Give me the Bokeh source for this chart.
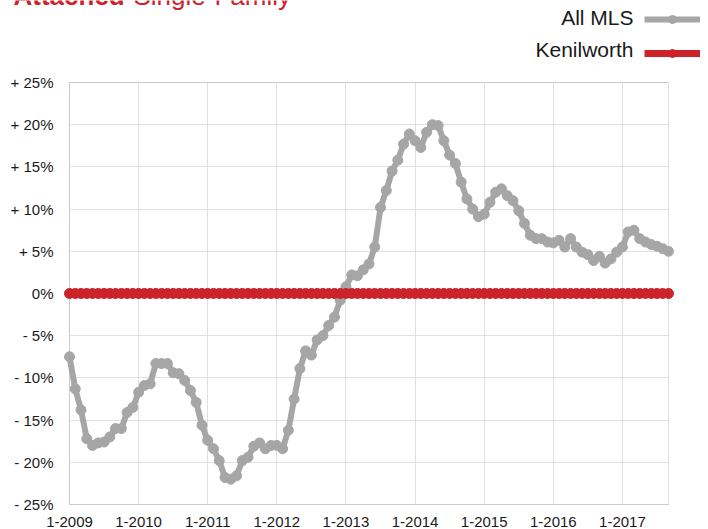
from bokeh.plotting import figure
from bokeh.models import (FixedTicker, Label, Legend, LegendItem, ColumnDataSource,
                          Range1d, BoxAnnotation, Grid)
from bokeh.embed import file_html
from bokeh.resources import INLINE

# ---- data ----
x_tick_labels = ["1-2009", "1-2010", "1-2011", "1-2012", "1-2013",
                 "1-2014", "1-2015", "1-2016", "1-2017"]
y_tick_values = [-25, -20, -15, -10, -5, 0, 5, 10, 15, 20, 25]
y_tick_labels = ["- 25%", "- 20%", "- 15%", "- 10%", "- 5%", "0%",
                 "+ 5%", "+ 10%", "+ 15%", "+ 20%", "+ 25%"]

# monthly values, Jan 2009 .. Sep 2017 (percent change)
all_mls = [
    -7.5, -11.3, -13.8, -17.2, -18.0, -17.7, -17.6, -17.0, -16.0, -16.0, -14.1, -13.5,   # 2009
    -11.7, -10.9, -10.7, -8.3, -8.3, -8.3, -9.4, -9.5, -10.3, -11.5, -12.9, -15.6,       # 2010
    -17.4, -18.4, -19.8, -21.8, -22.0, -21.6, -19.8, -19.4, -18.1, -17.7, -18.4, -18.0,  # 2011
    -18.0, -18.4, -16.2, -12.5, -8.9, -6.8, -7.3, -5.5, -5.0, -3.8, -2.8, -0.8,          # 2012
    0.8, 2.2, 2.1, 2.8, 3.5, 5.5, 10.2, 12.2, 14.5, 15.8, 17.7, 18.9,                    # 2013
    18.1, 17.3, 19.1, 20.0, 19.9, 18.1, 16.4, 15.4, 13.2, 11.2, 10.0, 9.1,               # 2014
    9.4, 10.8, 12.0, 12.4, 11.6, 11.0, 9.8, 8.3, 6.9, 6.5, 6.5, 6.1,                     # 2015
    6.0, 6.3, 5.5, 6.5, 5.5, 4.9, 4.6, 3.9, 4.4, 3.6, 4.1, 4.9,                          # 2016
    5.5, 7.3, 7.5, 6.5, 6.1, 5.8, 5.6, 5.3, 5.0,                                         # 2017
]
kenilworth = [
    0, 0, 0, 0, 0, 0, 0, 0, 0, 0, 0, 0,
    0, 0, 0, 0, 0, 0, 0, 0, 0, 0, 0, 0,
    0, 0, 0, 0, 0, 0, 0, 0, 0, 0, 0, 0,
    0, 0, 0, 0, 0, 0, 0, 0, 0, 0, 0, 0,
    0, 0, 0, 0, 0, 0, 0, 0, 0, 0, 0, 0,
    0, 0, 0, 0, 0, 0, 0, 0, 0, 0, 0, 0,
    0, 0, 0, 0, 0, 0, 0, 0, 0, 0, 0, 0,
    0, 0, 0, 0, 0, 0, 0, 0, 0, 0, 0, 0,
    0, 0, 0, 0, 0, 0, 0, 0, 0,
]
month_index = list(range(len(all_mls)))

GRAY = "#a6a6a6"
RED = "#cc2229"
FONT = "Liberation Sans"
TEXT = "#1a1a1a"

# ---- layout (pixels) ----
W, H = 708, 529
RIGHT = 8
PLOT_LEFT_PAD = 69   # px between canvas left and first month
PLOT_W = 599         # px width of the plotted period
PLOT_H = 422         # px height of -25..+25
TOP_PAD = 82         # px between canvas top and +25 %
BOTTOM_PAD = 25      # px between -25 % and canvas bottom
YLAB_RIGHT = 53      # right edge of y tick labels
XLAB_TOP = 13        # px above canvas bottom where x tick labels start
X0, X1 = 0, len(all_mls) - 1
Y0, Y1 = -25, 25
PXM = PLOT_W / (X1 - X0)
PXY = PLOT_H / (Y1 - Y0)
frame_w = W - RIGHT

def dx(px):
    return X0 + px / PXM

def dy(px_above_top):
    return Y1 + px_above_top / PXY

src = ColumnDataSource(dict(x=month_index, mls=all_mls, ken=kenilworth))

p = figure(width=W, height=H,
           x_range=Range1d(dx(-PLOT_LEFT_PAD), dx(frame_w - PLOT_LEFT_PAD)),
           y_range=Range1d(Y0 - BOTTOM_PAD / PXY, dy(TOP_PAD)),
           output_backend="svg", toolbar_location=None,
           min_border_left=0, min_border_right=RIGHT,
           min_border_top=0, min_border_bottom=0)
p.background_fill_color = "white"
p.border_fill_color = "white"
p.outline_line_color = None

# grid lines limited to the plotting box
xticks = [12 * i for i in range(len(x_tick_labels))]
p.xgrid.ticker = FixedTicker(ticks=xticks)
p.ygrid.ticker = FixedTicker(ticks=y_tick_values)
if "cross_bounds" in Grid.properties():
    p.xgrid.cross_bounds = (Y0, Y1)
    p.ygrid.cross_bounds = (X0, X1)
    p.grid.grid_line_color = "#e0e0e0"
    p.grid.grid_line_width = 1
else:
    p.grid.grid_line_color = None
    p.segment(x0=xticks, y0=[Y0] * len(xticks), x1=xticks, y1=[Y1] * len(xticks),
              line_color="#e0e0e0", line_width=1)
    p.segment(x0=[X0] * len(y_tick_values), y0=y_tick_values,
              x1=[X1] * len(y_tick_values), y1=y_tick_values,
              line_color="#e0e0e0", line_width=1)

# plot box (axis lines)
p.add_layout(BoxAnnotation(left=X0, right=X1, bottom=Y0, top=Y1, fill_alpha=0,
                           line_color="#9a9a9a", line_width=1, level="underlay"))

gl = p.line("x", "mls", source=src, line_color=GRAY, line_width=6, line_join="round")
gc = p.scatter("x", "mls", source=src, size=10, fill_color=GRAY, line_color=GRAY)
rl = p.line("x", "ken", source=src, line_color=RED, line_width=7)
rc = p.scatter("x", "ken", source=src, size=10, fill_color=RED, line_color=RED)

# axes
p.xaxis.ticker = FixedTicker(ticks=xticks)
p.xaxis.major_label_overrides = {t: lab for t, lab in zip(xticks, x_tick_labels)}
p.yaxis.ticker = FixedTicker(ticks=y_tick_values)
p.yaxis.major_label_overrides = {v: lab for v, lab in zip(y_tick_values, y_tick_labels)}
for ax in (p.xaxis, p.yaxis):
    ax.axis_line_color = None
    ax.major_tick_line_color = None
    ax.minor_tick_line_color = None
    ax.major_tick_out = 0
    ax.major_tick_in = 0
    ax.minor_tick_out = 0
    ax.major_label_text_font = FONT
    ax.major_label_text_font_size = "15px"
    ax.major_label_text_color = TEXT
# the frame fills the canvas, so the tick labels sit inside it
p.xaxis.major_label_standoff = -XLAB_TOP
p.yaxis.major_label_standoff = -YLAB_RIGHT

# legend: keys at right, labels drawn to their left
legend = Legend(items=[LegendItem(label=" ", renderers=[gl, gc]),
                       LegendItem(label=" ", renderers=[rl, rc])],
                location=(644, 466), glyph_width=56, glyph_height=20,
                label_height=20, label_width=0, label_standoff=0,
                label_text_font_size="1px", spacing=14, padding=0, margin=0,
                background_fill_alpha=0, border_line_alpha=0)
p.add_layout(legend)

legend_labels = ["All MLS", "Kenilworth"]
for lab, up in zip(legend_labels, [65, 33]):
    p.add_layout(Label(x=dx(564), y=dy(up), text=lab,
                       text_align="right", text_baseline="middle", text_font=FONT,
                       text_font_size="21px", text_color=TEXT))

# title (its top is cut off at the top edge, as in the reference)
p.add_layout(Label(x=dx(-56), y=dy(87), text="Attached",
                   text_align="left", text_baseline="alphabetic", text_font=FONT,
                   text_font_style="bold", text_font_size="26px", text_color=RED))
p.add_layout(Label(x=dx(64), y=dy(87), text="Single-Family",
                   text_align="left", text_baseline="alphabetic", text_font=FONT,
                   text_font_size="26px", text_color=RED))

open("out.html", "w").write(file_html(p, INLINE))
